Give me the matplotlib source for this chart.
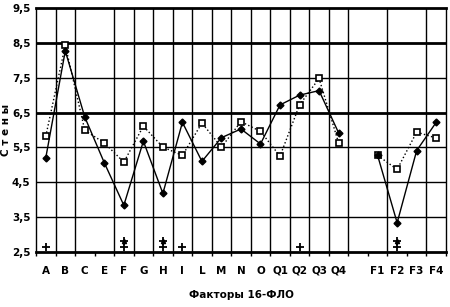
import numpy as np
import matplotlib
matplotlib.use("Agg")
import matplotlib.pyplot as plt

plt.rcParams['font.family'] = ['Liberation Sans Narrow', 'DejaVu Sans']

categories = ["A", "B", "C", "E", "F", "G", "H", "I", "L", "M", "N", "O",
              "Q1", "Q2", "Q3", "Q4", "", "F1", "F2", "F3", "F4"]
nan = np.nan
solid_vals = [5.2, 8.27, 6.37, 5.06, 3.84, 5.68, 4.18, 6.22, 5.1, 5.78, 6.03, 5.6,
              6.72, 7.0, 7.13, 5.92, nan, 5.27, 3.34, 5.41, 6.22]
dotted_vals = [5.82, 8.43, 5.99, 5.63, 5.08, 6.11, 5.51, 5.27, 6.2, 5.51, 6.24, 5.96,
               5.25, 6.72, 7.48, 5.63, nan, 5.27, 4.87, 5.94, 5.77]
plus_low = [2.65, nan, nan, nan, 2.65, nan, 2.65, 2.65, nan, nan, nan, nan,
            nan, 2.65, nan, nan, nan, nan, 2.65, nan, nan]
plus_high = [nan, nan, nan, nan, 2.82, nan, 2.82, nan, nan, nan, nan, nan,
             nan, nan, nan, nan, nan, nan, 2.82, nan, nan]
ytick_vals = [2.5, 3.5, 4.5, 5.5, 6.5, 7.5, 8.5, 9.5]
ytick_labels = ["2,5", "3,5", "4,5", "5,5", "6,5", "7,5", "8,5", "9,5"]

x = np.arange(len(categories))

fig = plt.figure(figsize=(4.5, 3.07), dpi=100)
ax = fig.add_axes([0.08, 0.179, 0.911, 0.795])

# grid
for v in [3.5, 4.5, 5.5, 7.5]:
    ax.axhline(v, color="black", lw=1.0, zorder=1)
for v in [6.5, 8.5]:
    ax.axhline(v, color="black", lw=2.0, zorder=1)
skip = [2, 16, 18]
for i in range(len(categories) - 1):
    if i in skip:
        continue
    ax.axvline(i + 0.5, color="black", lw=1.0, zorder=1)

ax.plot(x, dotted_vals, ls=":", color="black", lw=1.0, marker="s", ms=4,
        mfc="white", mec="black", mew=1.2, zorder=3)
ax.plot(x, solid_vals, ls="-", color="black", lw=1.0, marker="D", ms=3.5,
        mfc="black", mec="black", zorder=4)
ax.plot(x, plus_low, ls="none", color="black", marker="+", ms=6, mew=1.3, zorder=4)
ax.plot(x, plus_high, ls="none", color="black", marker="+", ms=6, mew=1.3, zorder=4)
ax.plot(x, plus_high, ls="none", color="black", marker="^", ms=3, zorder=4)

ax.set_xlim(-0.5, len(categories) - 0.5)
ax.set_ylim(2.5, 9.5)
ax.set_yticks(ytick_vals)
ax.set_yticklabels(ytick_labels, fontsize=7.5, fontweight="bold")
ax.set_xticks(x)
ax.set_xticklabels(categories, fontsize=7.5, fontweight="bold")
ax.set_xticks(np.arange(-0.5, len(categories), 1.0), minor=True)
ax.tick_params(axis="x", which="major", length=0, pad=10)
ax.tick_params(axis="x", which="minor", length=3, width=1, direction="out")
ax.tick_params(axis="y", length=0, pad=4)

for s in ["top", "bottom"]:
    ax.spines[s].set_linewidth(2.0)
ax.spines["left"].set_linewidth(1.0)
ax.spines["right"].set_linewidth(1.0)

ax.set_xlabel("Факторы 16-ФЛО", fontsize=7.5, fontweight="bold", labelpad=10)
ax.set_ylabel("С т е н ы", fontsize=7.5, fontweight="bold")
ax.yaxis.set_label_coords(-0.062, 0.5)

fig.savefig("out.png", dpi=100)
